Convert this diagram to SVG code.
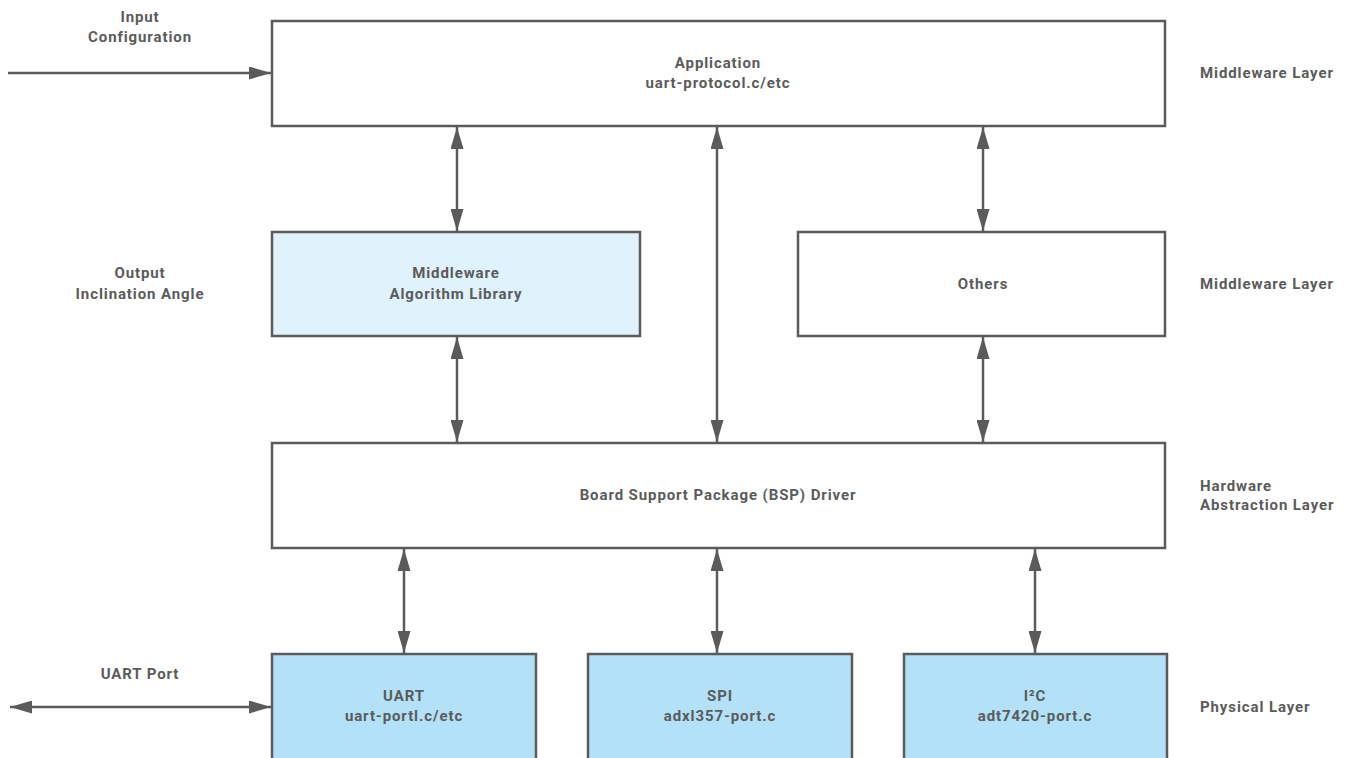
<svg xmlns="http://www.w3.org/2000/svg" width="1350" height="758" viewBox="0 0 1350 758">
<style>
.box{stroke:#5b5b5b;stroke-width:2.5}
.w{fill:#ffffff}
.lb{fill:#e0f2fc}
.pb{fill:#b3e1f7}
text{font-family:Roboto,"Liberation Sans",sans-serif;font-weight:bold;font-size:15px;letter-spacing:0.9px;fill:#5b5b5b}
.c{text-anchor:middle}
.ln{stroke:#5b5b5b;stroke-width:2.5;fill:none;marker-end:url(#ah)}
.dl{marker-start:url(#ah)}
</style>
<defs>
<marker id="ah" viewBox="0 0 22 13" refX="22" refY="6.5" markerWidth="22" markerHeight="13" markerUnits="userSpaceOnUse" orient="auto-start-reverse">
<path d="M0,0 L22,6.5 L0,13 Z" fill="#5b5b5b"/>
</marker>
</defs>
<rect width="1350" height="758" fill="#ffffff"/>
<g id="connectors">
<line class="ln" x1="8" y1="73" x2="271" y2="73"/>
<line class="ln dl" x1="10" y1="707" x2="271" y2="707"/>
<line class="ln dl" x1="457" y1="127" x2="457" y2="231"/>
<line class="ln dl" x1="717" y1="127" x2="717" y2="442"/>
<line class="ln dl" x1="983" y1="127" x2="983" y2="231"/>
<line class="ln dl" x1="457" y1="337" x2="457" y2="442"/>
<line class="ln dl" x1="983" y1="337" x2="983" y2="442"/>
<line class="ln dl" x1="404" y1="549" x2="404" y2="653"/>
<line class="ln dl" x1="717" y1="549" x2="717" y2="653"/>
<line class="ln dl" x1="1035" y1="549" x2="1035" y2="653"/>
</g>
<g id="application">
<rect class="box w" x="272" y="21" width="893" height="105"/>
<text class="c" x="718" y="68">Application</text>
<text class="c" x="718" y="88">uart-protocol.c/etc</text>
</g>
<g id="middleware">
<rect class="box lb" x="272" y="232" width="368" height="104"/>
<text class="c" x="456" y="278">Middleware</text>
<text class="c" x="456" y="299">Algorithm Library</text>
</g>
<g id="others">
<rect class="box w" x="798" y="232" width="367" height="104"/>
<text class="c" x="983" y="289">Others</text>
</g>
<g id="bsp">
<rect class="box w" x="272" y="443" width="893" height="105"/>
<text class="c" x="718" y="500">Board Support Package (BSP) Driver</text>
</g>
<g id="uart">
<rect class="box pb" x="272" y="654" width="264" height="110"/>
<text class="c" x="404" y="701">UART</text>
<text class="c" x="404" y="721">uart-portl.c/etc</text>
</g>
<g id="spi">
<rect class="box pb" x="588" y="654" width="264" height="110"/>
<text class="c" x="720" y="701">SPI</text>
<text class="c" x="720" y="721">adxl357-port.c</text>
</g>
<g id="i2c">
<rect class="box pb" x="904" y="654" width="263" height="110"/>
<text class="c" x="1035" y="701">I²C</text>
<text class="c" x="1035" y="721">adt7420-port.c</text>
</g>
<g id="labels">
<text class="c" x="140" y="22">Input</text>
<text class="c" x="140" y="42">Configuration</text>
<text class="c" x="140" y="278">Output</text>
<text class="c" x="140" y="299">Inclination Angle</text>
<text class="c" x="140" y="679">UART Port</text>
<text x="1200" y="78">Middleware Layer</text>
<text x="1200" y="289">Middleware Layer</text>
<text x="1200" y="491">Hardware</text>
<text x="1200" y="510">Abstraction Layer</text>
<text x="1200" y="712">Physical Layer</text>
</g>
</svg>
